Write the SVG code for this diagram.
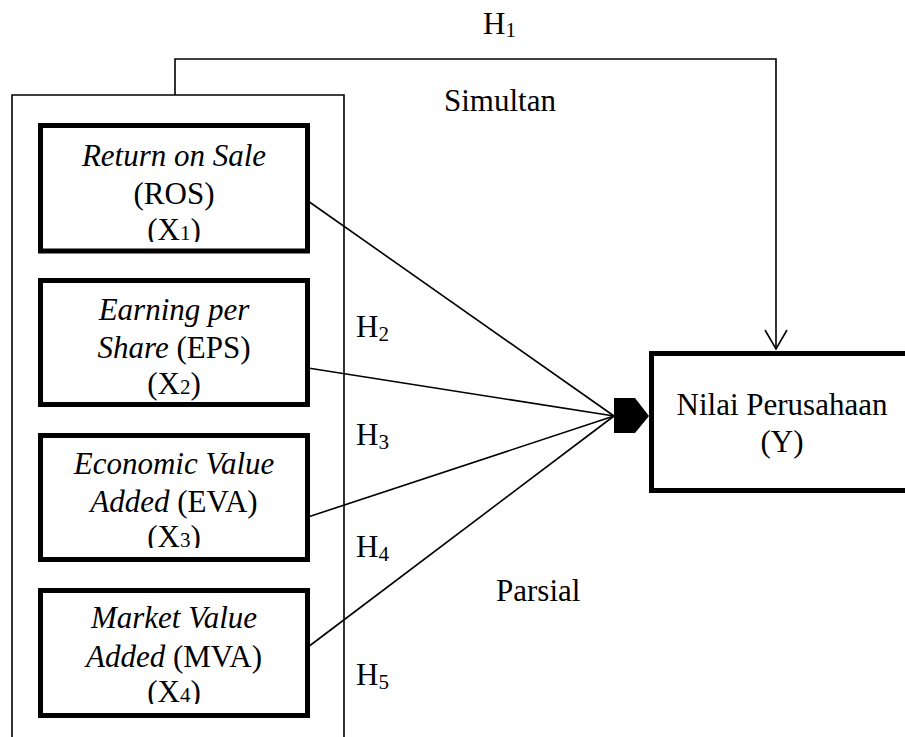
<svg xmlns="http://www.w3.org/2000/svg" width="905" height="737" viewBox="0 0 905 737">
<style>
text{font-family:"Liberation Serif","Times New Roman",serif;font-size:31px;fill:#000}
.c{text-anchor:middle}
.i{font-style:italic}
.node{fill:#fff;stroke:#000;stroke-width:5}
.ln{fill:none;stroke:#000;stroke-width:1.6}
.sub{font-size:21px}
</style>
<defs>
<clipPath id="cp1" clipPathUnits="userSpaceOnUse"><rect x="38" y="123" width="272" height="119"/></clipPath>
<clipPath id="cp2" clipPathUnits="userSpaceOnUse"><rect x="38" y="276" width="272" height="125"/></clipPath>
<clipPath id="cp3" clipPathUnits="userSpaceOnUse"><rect x="38" y="431" width="272" height="117"/></clipPath>
<clipPath id="cp4" clipPathUnits="userSpaceOnUse"><rect x="38" y="586" width="272" height="118"/></clipPath>
</defs>
<rect width="905" height="737" fill="#fff"/>
<g id="group-box">
<path class="ln" d="M12,740 V95 H344 V740"/>
</g>
<g id="connectors">
<path class="ln" d="M175,95 V59 H776 V349"/>
<path class="ln" d="M765,330 L776,349 L787,330"/>
<line class="ln" x1="308" y1="201" x2="614" y2="416"/>
<line class="ln" x1="308" y1="368" x2="614" y2="416"/>
<line class="ln" x1="308" y1="517" x2="614" y2="416"/>
<line class="ln" x1="308" y1="647" x2="614" y2="416"/>
<polygon points="614,398 635,398 649,416 635,433 614,433" fill="#000"/>
</g>
<g id="node-x1">
<rect class="node" x="40.5" y="125.5" width="267" height="125.5"/>
<g clip-path="url(#cp1)">
<text class="c i" x="174" y="166">Return on Sale</text>
<text class="c" x="174" y="204">(ROS)</text>
<text class="c" x="174" y="240">(X<tspan class="sub">1</tspan>)</text>
</g>
</g>
<g id="node-x2">
<rect class="node" x="40.5" y="280.5" width="267" height="124"/>
<g clip-path="url(#cp2)">
<text class="c i" x="174" y="320">Earning per</text>
<text class="c" x="174" y="358"><tspan class="i">Share</tspan> (EPS)</text>
<text class="c" x="174" y="394">(X<tspan class="sub">2</tspan>)</text>
</g>
</g>
<g id="node-x3">
<rect class="node" x="40.5" y="435.5" width="267" height="124"/>
<g clip-path="url(#cp3)">
<text class="c i" x="174" y="474">Economic Value</text>
<text class="c" x="174" y="512"><tspan class="i">Added</tspan> (EVA)</text>
<text class="c" x="174" y="547">(X<tspan class="sub">3</tspan>)</text>
</g>
</g>
<g id="node-x4">
<rect class="node" x="40.5" y="590.5" width="267" height="125"/>
<g clip-path="url(#cp4)">
<text class="c i" x="174" y="628">Market Value</text>
<text class="c" x="174" y="667"><tspan class="i">Added</tspan> (MVA)</text>
<text class="c" x="174" y="702">(X<tspan class="sub">4</tspan>)</text>
</g>
</g>
<g id="node-y">
<rect class="node" x="651.5" y="353.5" width="270" height="137"/>
<text class="c" x="782" y="415">Nilai Perusahaan</text>
<text class="c" x="782" y="452">(Y)</text>
</g>
<g id="labels">
<text x="483" y="34">H<tspan class="sub" dy="3">1</tspan></text>
<text x="444" y="111">Simultan</text>
<text x="356" y="337">H<tspan class="sub" dy="4">2</tspan></text>
<text x="356" y="445">H<tspan class="sub" dy="4">3</tspan></text>
<text x="356" y="557">H<tspan class="sub" dy="4">4</tspan></text>
<text x="356" y="685">H<tspan class="sub" dy="4">5</tspan></text>
<text x="496" y="601">Parsial</text>
</g>
</svg>
